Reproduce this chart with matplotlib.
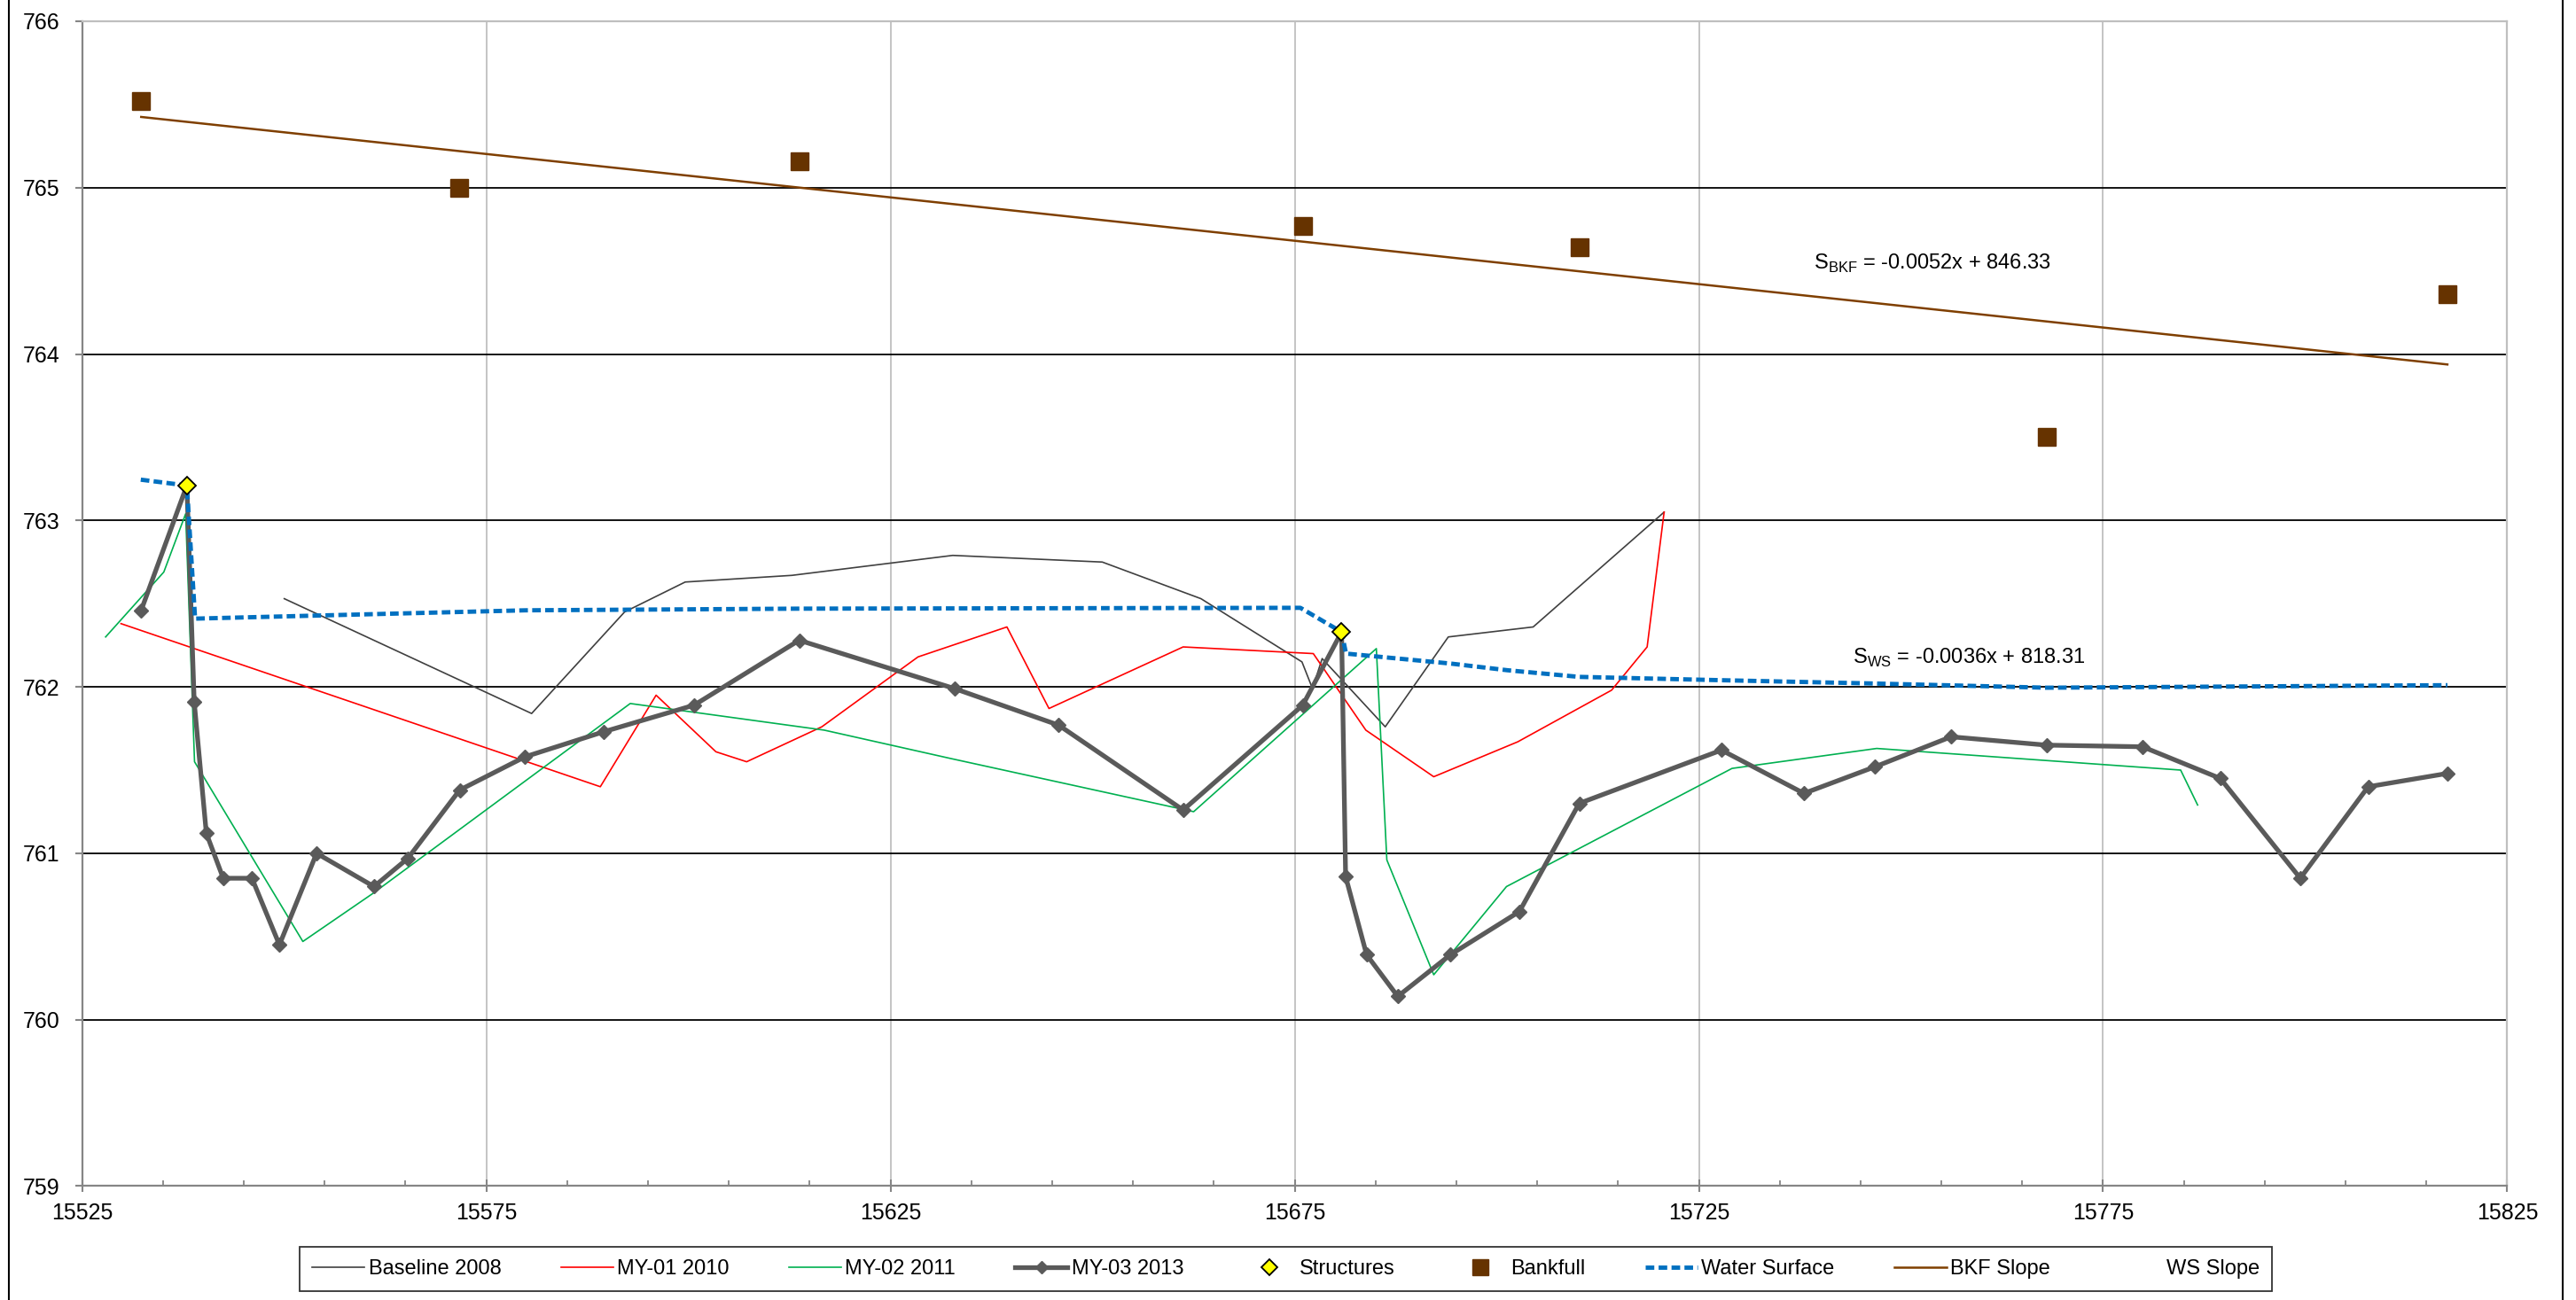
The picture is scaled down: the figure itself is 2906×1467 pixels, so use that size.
import matplotlib.pyplot as plt
import numpy as np
from matplotlib import font_manager
from matplotlib.lines import Line2D
from matplotlib.patches import Rectangle
from matplotlib.ticker import FixedLocator

# Longitudinal profile data (station, elevation)
baseline_x = [15550.0, 15580.6, 15592.1, 15599.6, 15612.8, 15632.7, 15651.2, 15663.4,
              15675.9, 15677.2, 15678.4, 15686.2, 15694.0, 15704.5, 15720.7]
baseline_y = [762.53, 761.84, 762.45, 762.63, 762.67, 762.79, 762.75, 762.53,
              762.15, 761.99, 762.17, 761.76, 762.30, 762.36, 763.05]

my01_x = [15529.8, 15589.1, 15596.0, 15603.4, 15607.2, 15616.5, 15628.4, 15639.4, 15644.6,
          15661.2, 15677.3, 15683.8, 15692.2, 15702.6, 15714.2, 15718.6, 15720.7]
my01_y = [762.38, 761.40, 761.95, 761.61, 761.55, 761.76, 762.18, 762.36, 761.87,
          762.24, 762.20, 761.74, 761.46, 761.67, 761.98, 762.24, 763.05]

my02_x = [15527.9, 15535.1, 15537.8, 15538.9, 15552.3, 15561.0, 15592.8, 15616.8, 15632.4,
          15662.5, 15685.1, 15686.4, 15692.2, 15701.2, 15729.1, 15747.0, 15784.6, 15786.7]
my02_y = [762.30, 762.69, 763.04, 761.55, 760.47, 760.76, 761.90, 761.74, 761.57,
          761.25, 762.23, 760.96, 760.27, 760.80, 761.51, 761.63, 761.50, 761.29]

my03_x = [15532.3, 15537.95, 15538.86, 15540.36, 15542.45, 15546.0, 15549.4, 15554.0,
          15561.1, 15565.3, 15571.7, 15579.8, 15589.5, 15600.7, 15613.7, 15632.9,
          15645.8, 15661.2, 15676.0, 15680.8, 15681.3, 15683.9, 15687.75, 15694.25,
          15702.8, 15710.2, 15727.8, 15738.0, 15746.8, 15756.2, 15768.0, 15779.9,
          15789.5, 15799.4, 15807.8, 15817.6]
my03_y = [762.46, 763.21, 761.91, 761.12, 760.85, 760.85, 760.45, 761.00,
          760.80, 760.97, 761.38, 761.58, 761.73, 761.89, 762.28, 761.99,
          761.77, 761.26, 761.89, 762.33, 760.86, 760.39, 760.14, 760.39,
          760.65, 761.30, 761.62, 761.36, 761.52, 761.70, 761.65, 761.64,
          761.45, 760.85, 761.40, 761.48]

struct_x = [15537.95, 15680.8]
struct_y = [763.21, 762.33]

bankfull_x = [15532.3, 15571.6, 15613.7, 15676.0, 15710.2, 15768.0, 15817.6]
bankfull_y = [765.52, 765.00, 765.16, 764.77, 764.64, 763.50, 764.36]

ws_x = [15532.25, 15537.95, 15538.97, 15579.8, 15613.7, 15675.7, 15680.8, 15681.35,
        15694.3, 15701.3, 15710.2, 15727.8, 15746.8, 15768.0, 15817.6]
ws_y = [763.245, 763.21, 762.41, 762.46, 762.47, 762.475, 762.33, 762.20,
        762.14, 762.10, 762.06, 762.04, 762.02, 761.995, 762.01]

x_major = np.arange(15525, 15826, 50)
x_minor = np.arange(15535, 15825, 10)

bkf_eq = 'S$_{\\mathregular{BKF}}$ = -0.0052x + 846.33'
ws_eq = 'S$_{\\mathregular{WS}}$ = -0.0036x + 818.31'

# pick a narrow font close to Calibri if it is there
names = {f.name for f in font_manager.fontManager.ttflist}
font = 'Liberation Sans Narrow' if 'Liberation Sans Narrow' in names else 'Liberation Sans'
plt.rcParams['font.family'] = [font, 'DejaVu Sans']
plt.rcParams['mathtext.fontset'] = 'custom'
plt.rcParams['mathtext.rm'] = font
fs = 19 if font == 'Liberation Sans Narrow' else 17

fig = plt.figure(figsize=(29.06, 14.67), dpi=100)
ax = fig.add_axes([0.0319, 0.0876, 0.9414, 0.8961])

ax.plot(baseline_x, baseline_y, color='#404040', lw=1.2, label='Baseline 2008', zorder=2)
ax.plot(my01_x, my01_y, color='#FF0000', lw=1.2, label='MY-01 2010', zorder=2)
ax.plot(my02_x, my02_y, color='#00B050', lw=1.2, label='MY-02 2011', zorder=2)
ax.plot(my03_x, my03_y, color='#5A5A5A', lw=3.8, marker='D', markersize=8,
        label='MY-03 2013', zorder=3)
ax.plot(ws_x, ws_y, color='#0070C0', lw=3.5, ls=(0, (2, 1)), label='Water Surface', zorder=4)

# bankfull slope: linear fit through the bankfull points
coef = np.polyfit(bankfull_x, bankfull_y, 1)
fit_x = np.array([min(bankfull_x), max(bankfull_x)])
ax.plot(fit_x, np.polyval(coef, fit_x), color='#7F3F00', lw=1.8, label='BKF Slope', zorder=4)

ax.plot(bankfull_x, bankfull_y, ls='none', marker='s', markersize=14.5, color='#663300',
        label='Bankfull', zorder=5)
ax.plot(struct_x, struct_y, ls='none', marker='D', markersize=10, markerfacecolor='#FFFF00',
        markeredgecolor='black', markeredgewidth=1.3, label='Structures', zorder=6)

ax.text(15739.2, 764.51, bkf_eq, fontsize=fs, va='baseline', ha='left')
ax.text(15744.0, 762.14, ws_eq, fontsize=fs, va='baseline', ha='left')

ax.set_xlim(15525, 15825)
ax.set_ylim(759, 766)
ax.xaxis.set_major_locator(FixedLocator(x_major))
ax.xaxis.set_minor_locator(FixedLocator(x_minor))
ax.set_yticks(np.arange(759, 767, 1))

ax.set_axisbelow(True)
ax.grid(axis='y', color='black', lw=1.3)
ax.grid(axis='x', color='#BFBFBF', lw=1.3)

for s in ['left', 'bottom']:
    ax.spines[s].set_color('#868686')
    ax.spines[s].set_linewidth(1.6)
for s in ['top', 'right']:
    ax.spines[s].set_color('#BFBFBF')
    ax.spines[s].set_linewidth(1.6)

ax.tick_params(axis='x', which='major', direction='inout', length=10, width=1.5,
               color='#868686', labelsize=fs + 1, pad=8)
ax.tick_params(axis='x', which='minor', direction='in', length=4, width=1.3, color='#868686')
ax.tick_params(axis='y', which='major', direction='out', length=6, width=1.5,
               color='#868686', labelsize=fs + 1, pad=12)

handles, labels = ax.get_legend_handles_labels()
order = ['Baseline 2008', 'MY-01 2010', 'MY-02 2011', 'MY-03 2013', 'Structures',
         'Bankfull', 'Water Surface', 'BKF Slope']
hmap = dict(zip(labels, handles))
leg_handles = [hmap[k] for k in order] + [Line2D([], [], color='none')]
leg_labels = order + ['WS Slope']

leg = fig.legend(leg_handles, leg_labels, loc='lower left', ncol=9, mode='expand',
                 bbox_to_anchor=(338 / 2906, 1 - 1457 / 1467, 2225 / 2906, 50 / 1467),
                 borderaxespad=0, fontsize=fs, frameon=True, fancybox=False,
                 edgecolor='black', handlelength=2.5, handletextpad=0.2,
                 borderpad=0.6, markerscale=0.9)
leg.get_frame().set_linewidth(1.3)

# outer chart border
fig.patches.append(Rectangle((10 / 2906, -0.01), 2881 / 2906, 1.02, transform=fig.transFigure,
                             fill=False, edgecolor='black', lw=1.5))

fig.savefig('out.png', dpi=100)
